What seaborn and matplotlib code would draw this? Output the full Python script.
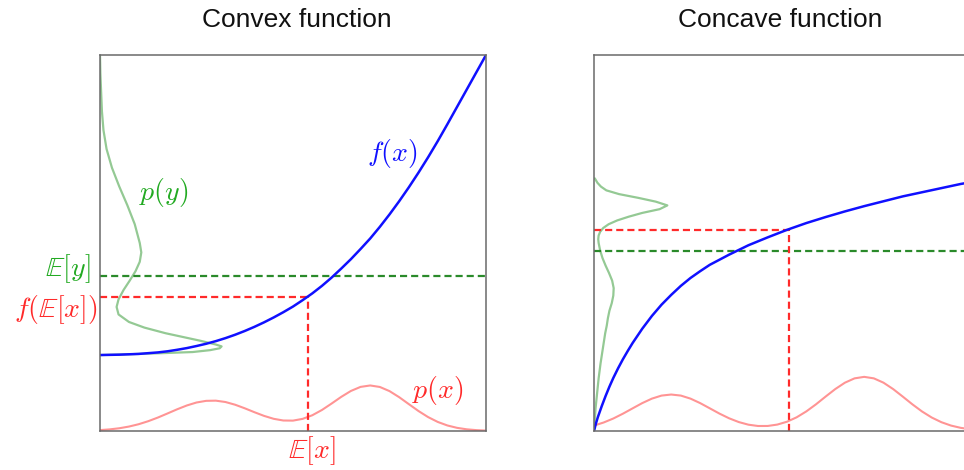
import numpy as np
import seaborn as sns
import matplotlib.pyplot as plt

sns.set_theme(style='white')
plt.rcParams['font.family'] = ['Liberation Sans', 'DejaVu Sans']
plt.rcParams['mathtext.fontset'] = 'cm'

# ---- values (both panels on a 0..1 x 0..1 box) ----
grid = np.linspace(0, 1, 41)  # sampling points for p(x) and the convex f(x)

# convex panel
convex_f = [.202, .2025, .203, .204, .205, .207, .209, .212, .216, .2205,
            .226, .232, .239, .247, .256, .266, .277, .289, .302, .316,
            .331, .348, .366, .386, .408, .432, .457, .484, .512, .543,
            .576, .611, .648, .687, .728, .771, .816, .862, .908, .954, 1.0]
convex_px = [.0024, .0043, .0073, .0118, .0180, .0261, .0358, .0467, .0578, .0679,
             .0758, .0802, .0807, .0771, .0699, .0604, .0500, .0402, .0324, .0279,
             .0276, .0323, .0419, .0559, .0730, .0908, .1065, .1173, .1211, .1171,
             .1061, .0900, .0715, .0532, .0370, .0241, .0147, .0084, .0045, .0023, .0011]
convex_y = [1.0, .95, .90, .85, .80, .75, .70, .65, .60, .55,
            .50, .475, .45, .425, .40, .375, .35, .33, .31, .29,
            .275, .26, .25, .24, .23, .225, .22, .215, .21, .207, .204, .202]
convex_py = [0.0, .001, .003, .005, .009, .017, .031, .050, .071, .090,
             .103, .107, .103, .092, .077, .061, .048, .043, .048, .075,
             .115, .17, .215, .26, .30, .315, .31, .285, .24, .16, .07, 0.0]
convex_ex, convex_fex, convex_ey = 0.540, 0.357, 0.411

# concave panel
concave_x = [0, .005, .01, .02, .03, .04, .05, .0625, .075, .0875, .1, .125, .15,
             .175, .2, .225, .25, .275, .3, .35, .4, .45, .5, .55, .6, .65, .7,
             .75, .8, .85, .9, .95, 1.0]
concave_f = [0, .02, .037, .066, .093, .118, .141, .167, .191, .213, .234, .272,
             .306, .336, .362, .386, .407, .425, .442, .469, .494, .515, .535,
             .553, .569, .584, .598, .611, .624, .635, .646, .657, .666]
concave_px = [.0144, .0226, .0332, .0461, .0602, .0742, .0861, .0942, .0970, .0942,
              .0861, .0742, .0603, .0463, .0338, .0238, .0168, .0133, .0134, .0171,
              .0247, .0364, .0521, .0709, .0915, .1115, .1285, .1400, .1440, .1400,
              .1285, .1115, .0914, .0708, .0518, .0358, .0234, .0144, .0084, .0046, .0024]
concave_y = [.672, .66, .65, .64, .63, .62, .61, .60, .59, .58,
             .57, .56, .55, .54, .53, .52, .51, .50, .48, .46,
             .44, .42, .40, .38, .36, .34, .32, .30, .28, .26,
             .22, .18, .14, .10, .06, .03, 0.0]
concave_py = [.002, .009, .018, .032, .065, .115, .16, .19, .17, .125,
              .09, .06, .038, .024, .016, .012, .011, .012, .016, .022,
              .03, .039, .047, .051, .05, .046, .04, .036, .033, .029,
              .023, .017, .012, .008, .004, .002, 0.0]
concave_ex, concave_fex, concave_ey = 0.505, 0.535, 0.4795

BLUE = '#1010ff'
RED = '#ff2a2a'
GREEN = '#2a8a2a'
DASH = (0, (3.2, 1.8))


def panel(ax, fx, fy, px, py_y, py_d, ex, fex, ey):
    sns.lineplot(x=grid, y=px, ax=ax, color='red', alpha=0.42, lw=1.5)
    sns.lineplot(x=py_d, y=py_y, ax=ax, color='green', alpha=0.42, lw=1.6,
                 sort=False, estimator=None)
    ax.hlines(ey, 0, 1, color=GREEN, lw=1.6, linestyle=DASH)
    ax.hlines(fex, 0, ex, color=RED, lw=1.6, linestyle=DASH)
    ax.vlines(ex, 0, fex, color=RED, lw=1.6, linestyle=DASH)
    sns.lineplot(x=fx, y=fy, ax=ax, color=BLUE, lw=1.8, sort=False, estimator=None)
    ax.set_xlim(0, 1)
    ax.set_ylim(0, 1)
    ax.set_xticks([])
    ax.set_yticks([])
    ax.set_xlabel('')
    ax.set_ylabel('')
    for s in ax.spines.values():
        s.set_color('#6a6a6a')
        s.set_linewidth(1.1)


fig = plt.figure(figsize=(9.64, 4.70), dpi=100)
ax1 = fig.add_axes([100 / 964, 39 / 470, 386 / 964, 376 / 470])
ax2 = fig.add_axes([594 / 964, 39 / 470, 386 / 964, 376 / 470])

panel(ax1, grid, convex_f, convex_px, convex_y, convex_py,
      convex_ex, convex_fex, convex_ey)
panel(ax2, concave_x, concave_f, concave_px, concave_y, concave_py,
      concave_ex, concave_fex, concave_ey)

ax1.text(0.51, 1.0745, 'Convex function', transform=ax1.transAxes,
         ha='center', va='baseline', fontsize=19, color='#111111')
ax2.text(0.482, 1.0745, 'Concave function', transform=ax2.transAxes,
         ha='center', va='baseline', fontsize=19, color='#111111')

ms = 20
ax1.text(0.756, 0.739, r'$f(x)$', color=BLUE, fontsize=ms, ha='center', va='center')
ax1.text(0.166, 0.633, r'$p(y)$', color='#22aa22', fontsize=ms, ha='center', va='center')
ax1.text(0.876, 0.109, r'$p(x)$', color=RED, fontsize=ms, ha='center', va='center')
ax1.text(-0.026, 0.431, r'$\mathbb{E}[y]$', color='#22aa22', fontsize=ms,
         ha='right', va='center', clip_on=False)
ax1.text(-0.006, 0.324, r'$f(\mathbb{E}[x])$', color=RED, fontsize=ms,
         ha='right', va='center', clip_on=False)
ax1.text(convex_ex + 0.009, -0.053, r'$\mathbb{E}[x]$', color=RED, fontsize=ms,
         ha='center', va='center', clip_on=False)

fig.savefig('out.png', dpi=100)
